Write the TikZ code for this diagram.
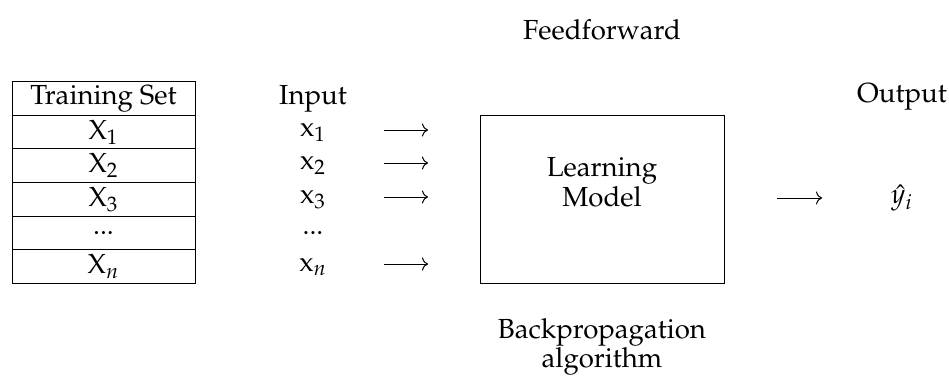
\documentclass[tikz,border=0pt]{standalone}
\usepackage[T1]{fontenc}
\usepackage{mathpazo}
\usetikzlibrary{arrows.meta}
\begin{document}
\begin{tikzpicture}[x=0.5pt,y=-0.5pt,
  every node/.style={font=\fontsize{13.8}{12.6}\selectfont, inner sep=0pt},
  cell/.style={draw, line width=0.5pt, minimum width=91.5pt, minimum height=16.8pt, anchor=center},
  flow/.style={line width=0.5pt, -{To[length=3pt,width=6.5pt]}},
  model/.style={draw, line width=0.5pt, minimum width=122pt, minimum height=84pt}]
\useasboundingbox (0,0) rectangle (949,380);

% training set table
\node[cell] (t0) at (103.5,98.5) {Training Set};
\node[cell] (t1) at (103.5,132.1) {X$_1$};
\node[cell] (t2) at (103.5,165.7) {X$_2$};
\node[cell] (t3) at (103.5,199.3) {X$_3$};
\node[cell] (t4) at (103.5,232.9) {...};
\node[cell] (t5) at (103.5,266.5) {X$_n$};

% input column
\node (in)  at (313,98.5) {Input};
\node (x1)  at (313,132.1) {x$_1$};
\node (x2)  at (313,165.7) {x$_2$};
\node (x3)  at (313,199.3) {x$_3$};
\node (xd)  at (313,232.9) {...};
\node (xn)  at (313,266.5) {x$_n$};

% input arrows
\coordinate (a1s) at (384,130); \coordinate (a1e) at (428,130);
\coordinate (a2s) at (384,163); \coordinate (a2e) at (428,163);
\coordinate (a3s) at (384,197); \coordinate (a3e) at (428,197);
\coordinate (ans) at (384,264); \coordinate (ane) at (428,264);
\draw[flow] (a1s) -- (a1e);
\draw[flow] (a2s) -- (a2e);
\draw[flow] (a3s) -- (a3e);
\draw[flow] (ans) -- (ane);

% learning model
\node[model] (lm) at (602,199) {};
\node[align=center] (lmt) at (602,182) {Learning\\Model};

% labels above and below
\node (ff) at (602,30) {Feedforward};
\node[align=center] (bp) at (602,347) {Backpropagation\\algorithm};

% output
\node (out) at (902,97) {Output};
\coordinate (aos) at (777,198); \coordinate (aoe) at (822,198);
\draw[flow] (aos) -- (aoe);
\node (y) at (902,198) {$\hat{y}_i$};
\end{tikzpicture}
\end{document}
